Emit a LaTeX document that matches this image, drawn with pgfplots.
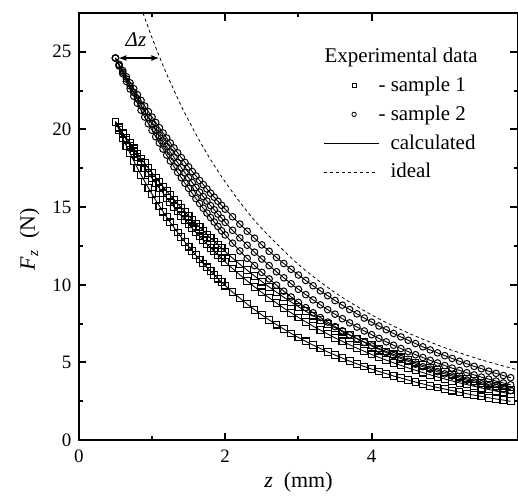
\documentclass[border=0pt]{standalone}
\usepackage{fontspec}
\setmainfont{Liberation Serif}
\usepackage{pgfplots}
\pgfplotsset{compat=1.18}
\usepackage{pgfplotstable}
\usetikzlibrary{arrows.meta}

\pgfplotsset{
  markleg/.style={legend image code/.code={\path[draw=none] (0cm,0cm) -- (0.97cm,0cm);
      \draw[##1] plot coordinates {(0.53cm,0cm)};}},
  lineleg/.style={legend image code/.code={\path[draw=none] (0cm,0cm) -- (0.97cm,0cm);
      \draw[##1] (0cm,0cm) -- (#1,0cm);}},
  circ/.style={black, line width=0.45pt, mark=o, mark size=1.65pt, mark options={solid, line width=0.5pt}},
  sqr/.style={black, line width=0.45pt, mark=square, mark size=1.7pt, mark options={solid, line width=0.55pt}},
}

% measured force vs gap, two samples (C = sample 2 circles, S = sample 1 squares)
\pgfplotstableread{
z    C1    C2    C3    S1    S2    S3
0.5  24.60 24.60 24.60 20.50 20.50 20.50
0.55 24.19 24.14 24.09 20.14 20.10 19.96
0.6  23.79 23.69 23.59 19.79 19.71 19.44
0.65 23.39 23.25 23.09 19.45 19.33 18.94
0.7  23.00 22.81 22.61 19.11 18.96 18.45
0.75 22.62 22.39 22.14 18.78 18.59 17.98
0.8  22.24 21.97 21.69 18.45 18.23 17.52
0.85 21.87 21.56 21.24 18.13 17.88 17.08
0.9  21.51 21.16 20.80 17.82 17.53 16.65
0.95 21.15 20.76 20.37 17.51 17.19 16.24
1.0  20.80 20.37 19.95 17.21 16.86 15.84
1.05 20.45 19.99 19.53 16.91 16.54 15.45
1.1  20.11 19.62 19.13 16.61 16.22 15.08
1.15 19.78 19.26 18.74 16.32 15.91 14.71
1.2  19.45 18.90 18.35 16.04 15.60 14.36
1.25 19.13 18.55 17.97 15.76 15.30 14.02
1.3  18.81 18.21 17.60 15.49 15.01 13.69
1.35 18.50 17.87 17.24 15.22 14.72 13.37
1.4  18.19 17.54 16.89 14.96 14.44 13.06
1.45 17.88 17.21 16.54 14.70 14.17 12.75
1.5  17.59 16.89 16.21 14.45 13.90 12.46
1.55 17.29 16.58 15.88 14.20 13.63 12.18
1.6  17.01 16.27 15.55 13.95 13.37 11.90
1.65 16.72 15.97 15.24 13.71 13.12 11.63
1.7  16.45 15.68 14.93 13.47 12.87 11.37
1.75 16.17 15.39 14.62 13.24 12.63 11.12
1.8  15.90 15.10 14.33 13.01 12.39 10.87
1.85 15.64 14.83 14.04 12.79 12.15 10.63
1.9  15.38 14.55 13.76 12.57 11.92 10.40
1.95 15.12 14.29 13.48 12.35 11.70 10.17
2.0  14.87 14.02 13.21 12.14 11.48 9.95
2.1  14.38 13.51 12.68 11.72 11.05 9.53
2.2  13.91 13.02 12.18 11.32 10.64 9.14
2.3  13.45 12.55 11.70 10.94 10.25 8.76
2.4  13.00 12.10 11.24 10.57 9.87 8.40
2.5  12.57 11.66 10.80 10.21 9.51 8.06
2.6  12.16 11.24 10.38 9.86 9.16 7.74
2.7  11.76 10.84 9.98 9.53 8.83 7.44
2.8  11.37 10.45 9.59 9.20 8.50 7.15
2.9  11.00 10.07 9.22 8.89 8.20 6.87
3.0  10.63 9.71 8.87 8.59 7.90 6.61
3.1  10.28 9.37 8.53 8.30 7.62 6.36
3.2  9.94 9.03 8.20 8.02 7.34 6.12
3.3  9.61 8.71 7.89 7.75 7.08 5.90
3.4  9.30 8.40 7.60 7.49 6.83 5.68
3.5  8.99 8.11 7.31 7.24 6.59 5.48
3.6  8.69 7.82 7.04 6.99 6.36 5.28
3.7  8.41 7.55 6.78 6.76 6.14 5.09
3.8  8.13 7.28 6.53 6.53 5.92 4.91
3.9  7.86 7.03 6.30 6.32 5.72 4.74
4.0  7.60 6.79 6.07 6.11 5.52 4.58
4.1  7.35 6.55 5.85 5.90 5.33 4.42
4.2  7.11 6.33 5.64 5.71 5.15 4.28
4.3  6.87 6.11 5.44 5.52 4.98 4.13
4.4  6.65 5.90 5.25 5.33 4.81 4.00
4.5  6.43 5.70 5.07 5.16 4.65 3.87
4.6  6.22 5.50 4.89 4.99 4.50 3.74
4.7  6.01 5.32 4.73 4.82 4.35 3.62
4.8  5.81 5.14 4.57 4.67 4.21 3.50
4.9  5.62 4.97 4.41 4.51 4.07 3.39
5.0  5.44 4.80 4.27 4.37 3.94 3.29
5.1  5.26 4.64 4.13 4.22 3.81 3.19
5.2  5.08 4.49 3.99 4.09 3.69 3.09
5.3  4.92 4.34 3.86 3.95 3.58 2.99
5.4  4.75 4.20 3.74 3.83 3.47 2.90
5.5  4.60 4.06 3.62 3.70 3.36 2.82
5.6  4.44 3.93 3.51 3.58 3.26 2.73
5.7  4.30 3.80 3.40 3.47 3.16 2.65
5.8  4.16 3.68 3.30 3.36 3.07 2.58
5.9  4.02 3.56 3.20 3.25 2.97 2.50
}\forcedata

\pgfplotstableread{
z    F
0.85 27.86
0.9  27.19
1.0  25.90
1.1  24.70
1.2  23.57
1.4  21.51
1.6  19.69
1.8  18.06
2.0  16.62
2.25 15.02
2.5  13.62
3.0  11.31
3.5  9.50
4.0  8.06
4.5  6.90
5.0  5.95
5.5  5.17
6.0  4.52
}\idealdata

\begin{document}
\begin{tikzpicture}
\begin{axis}[
    name=ax,
    scale only axis,
    width=220pt, height=214pt,
    xmin=0, xmax=6, ymin=0, ymax=27.5,
    xtick={0,2,4}, ytick={0,5,...,25},
    minor x tick num=1, minor y tick num=1,
    tick align=inside,
    major tick length=3.8pt, minor tick length=2.2pt,
    axis line style={line width=1.2pt},
    every tick/.style={black, line width=1pt},
    tick label style={font=\fontsize{9.5}{11}\selectfont},
    y tick label style={inner sep=0pt, xshift=-3.5pt},
    x tick label style={inner sep=0pt, yshift=-4.5pt},
    /pgf/number format/assume math mode=true,
    xlabel={\textit{z}\ \ (mm)},
    ylabel={\textit{F}\textsubscript{\textit{z}}\ \ (N)},
    label style={font=\fontsize{11}{13}\selectfont},
    xlabel style={at={(axis description cs:0.5,-0.098)}, anchor=center},
    ylabel style={at={(axis description cs:-0.112,0.47)}, anchor=center},
    legend cell align=left,
    legend style={draw=none, fill=none, at={(axis cs:3.255,25.8)}, anchor=north west,
        font=\fontsize{10.5}{12}\selectfont, row sep=1.7pt,
        /tikz/every odd column/.append style={column sep=3.5pt}},
]
\addlegendimage{empty legend}
\addlegendentry{\hspace*{-33pt}Experimental data}
\addlegendimage{markleg, black, mark=square, mark size=1pt, mark options={line width=0.4pt}}
\addlegendentry{\hspace*{-6pt}- sample 1}
\addlegendimage{markleg, black, mark=o, mark size=1.1pt, mark options={line width=0.4pt}}
\addlegendentry{\hspace*{-6pt}- sample 2}
\addlegendimage{lineleg=0.97cm, black, line width=0.5pt}
\addlegendentry{calculated}
\addlegendimage{lineleg=0.92cm, black, line width=0.4pt, dash pattern=on 1.6pt off 1.4pt}
\addlegendentry{ideal}

\addplot[forget plot, black, line width=0.4pt, dash pattern=on 1.6pt off 1.4pt, smooth]
    table[x=z, y=F] {\idealdata};

\addplot[forget plot, circ] table[x=z, y=C1] {\forcedata};
\addplot[forget plot, circ] table[x=z, y=C2] {\forcedata};
\addplot[forget plot, circ] table[x=z, y=C3] {\forcedata};
\addplot[forget plot, sqr] table[x=z, y=S1] {\forcedata};
\addplot[forget plot, sqr] table[x=z, y=S2] {\forcedata};
\addplot[forget plot, sqr] table[x=z, y=S3] {\forcedata};

\draw[{Latex[length=4pt,width=3pt]}-{Latex[length=4pt,width=3pt]}, line width=0.7pt]
    (axis cs:0.54,24.6) -- (axis cs:1.1,24.6);
\node[font=\fontsize{10.5}{12}\selectfont] at (axis cs:0.78,25.8) {\textit{Δz}};
\end{axis}
\pgfresetboundingbox
\path ([xshift=-39.5pt,yshift=-28pt]ax.south west) rectangle ([yshift=6.5pt]ax.north east);
\end{tikzpicture}
\end{document}
